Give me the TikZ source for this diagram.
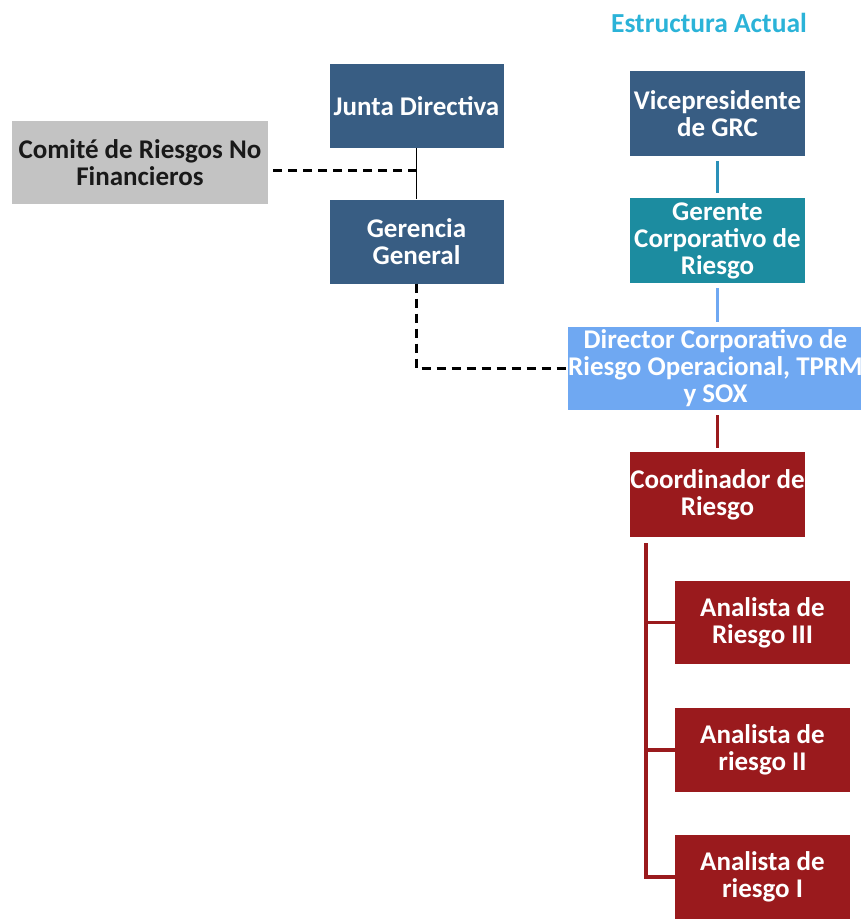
\documentclass[tikz,border=0pt]{standalone}
\usepackage{fontspec}
\setmainfont{Carlito}
\definecolor{navy}{HTML}{385D83}
\definecolor{tealbox}{HTML}{1C8CA0}
\definecolor{lightblue}{HTML}{6FA8F2}
\definecolor{darkred}{HTML}{9A1A1D}
\definecolor{graybox}{HTML}{C3C3C3}
\definecolor{titlecol}{HTML}{2BB3D8}
\definecolor{tealline}{HTML}{2A90B8}
\begin{document}
\begin{tikzpicture}[x=1pt,y=-1pt,
  box/.style={rectangle, inner sep=0pt, align=center, text=white,
    font=\fontsize{27}{27}\selectfont\bfseries},
  navybox/.style={box, fill=navy, minimum width=174pt, minimum height=84pt},
  tealnode/.style={box, fill=tealbox, minimum width=175pt, minimum height=85pt},
  redbox/.style={box, fill=darkred, minimum width=175pt, minimum height=84pt},
  dashline/.style={line width=2.6pt, dash pattern=on 9pt off 6pt},
  redline/.style={darkred, line width=3.5pt}
]
\useasboundingbox (0,0) rectangle (861,919);
\fill[white] (0,0) rectangle (861,919);

\node[text=titlecol, font=\fontsize{27.5}{27}\selectfont\bfseries] (title) at (709,23) {Estructura Actual};

\node[navybox] (junta) at (416.5,106) {Junta Directiva};
\node[box, fill=graybox, text=black!90, minimum width=256pt, minimum height=83pt] (comite) at (140,162.5) {Comité de Riesgos No\\Financieros};
\node[navybox] (gerencia) at (416.5,241.5) {Gerencia\\General};

\node[navybox, minimum width=175pt, minimum height=85pt] (vice) at (717.5,113.5) {Vicepresidente\\de GRC};
\node[tealnode] (gerente) at (717.5,240.5) {Gerente\\Corporativo de\\Riesgo};
\node[box, fill=lightblue, minimum width=291pt, minimum height=83pt] (director) at (715.5,368.5) {Director Corporativo de\\Riesgo Operacional, TPRM\\y SOX};
\node[redbox, minimum height=85pt] (coord) at (717.5,494.5) {Coordinador de\\Riesgo};
\node[redbox, minimum height=83pt] (a3) at (762.5,622.5) {Analista de\\Riesgo III};
\node[redbox] (a2) at (762.5,750) {Analista de\\riesgo II};
\node[redbox] (a1) at (762.5,877) {Analista de\\riesgo I};

% left connectors
\draw[black, line width=1.8pt] (junta.south) -- (gerencia.north);
\coordinate (cj) at (416.5,170.5);
\draw[dashline] (cj -| comite.east) ++(5,0) -- (cj);
\draw[dashline] (gerencia.south) |- (director.west);

% right connectors
\draw[tealline, line width=3.5pt, shorten >=5pt, shorten <=5pt] (vice.south) -- (gerente.north);
\draw[lightblue, line width=3.5pt, shorten >=5pt, shorten <=5pt] (gerente.south) -- (gerente.south |- director.north);
\draw[redline, shorten >=4pt, shorten <=5pt] (director.south -| coord.south) -- (coord.north);

\coordinate (tr) at (646,543);
\draw[redline] (tr) |- (a1.west);
\draw[redline] (tr |- a3.west) -- (a3.west);
\draw[redline] (tr |- a2.west) -- (a2.west);
\end{tikzpicture}
\end{document}
